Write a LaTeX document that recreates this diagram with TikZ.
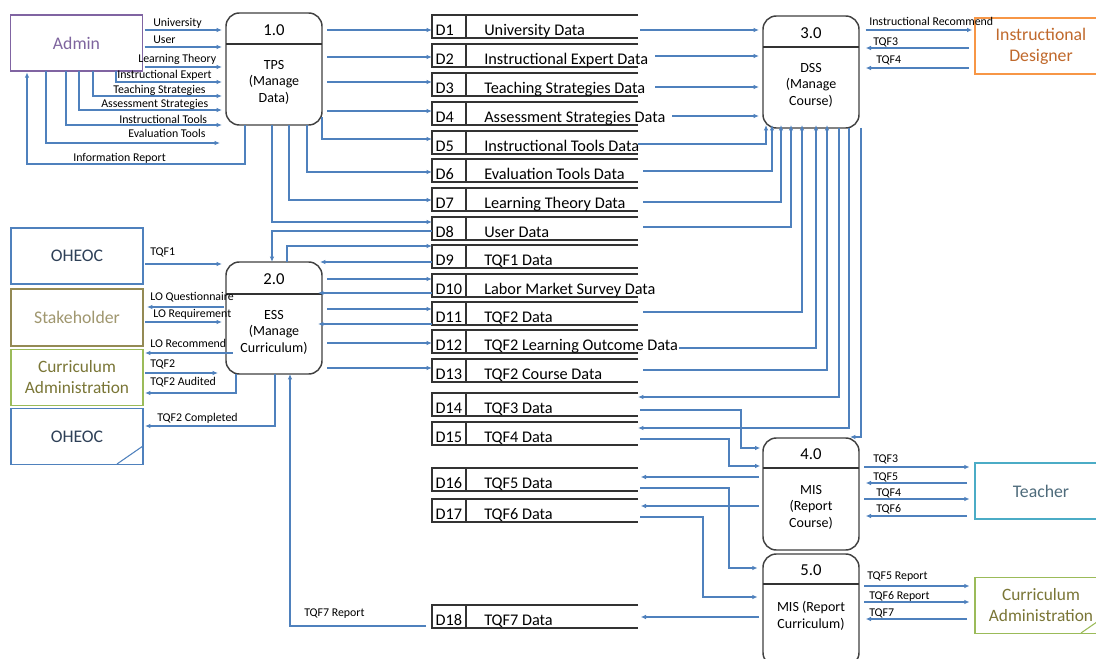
\documentclass[tikz,border=0pt]{standalone}
\usepackage{fontspec}
\setmainfont{Carlito}
\usetikzlibrary{arrows.meta}

\definecolor{flowc}{HTML}{4F81BD}
\definecolor{admc}{HTML}{8064A2}
\definecolor{admt}{HTML}{7E649E}
\definecolor{ohc}{HTML}{4F81BD}
\definecolor{oht}{HTML}{2E4057}
\definecolor{stkc}{HTML}{948A54}
\definecolor{stkt}{HTML}{A0976F}
\definecolor{cac}{HTML}{9BBB59}
\definecolor{cat}{HTML}{7A7636}
\definecolor{idc}{HTML}{F79646}
\definecolor{idt}{HTML}{C0692C}
\definecolor{tcc}{HTML}{4BACC6}
\definecolor{tct}{HTML}{4E6B7B}

\newcommand\lblfont{\fontsize{8.9}{9.5}\selectfont}
\newcommand\storefont{\fontsize{12.2}{14}\selectfont}
\newcommand\entfont{\fontsize{13.3}{15.75}\selectfont}
\newcommand\cafont{\fontsize{13}{15.75}\selectfont}
\newcommand\procfont{\fontsize{10.5}{12.4}\selectfont}
\newcommand\numfont{\fontsize{12.5}{14}\selectfont}

% data store: name, id, label, top edge
\newcommand\dstore[4]{%
  \node[sbox] (#1) at (432,#4) {};
  \draw[sline] (#1.north east) -- (#1.north west) -- (#1.south west) -- (#1.south east);
  \draw[sline] ([xshift=25.5pt]#1.north west) -- ([xshift=25.5pt]#1.south west);
  \node[stxt] (#1id) at ([xshift=2.5pt,yshift=-15.4pt]#1.north west) {#2};
  \node[stxt] (#1lb) at ([xshift=39pt,yshift=-15.4pt]#1.north west) {#3};
}

\begin{document}
\begin{tikzpicture}[x=0.75pt,y=-0.75pt,
  flow/.style={draw=flowc, line width=0.85pt, -{Latex[length=4pt,width=3.4pt]}},
  ge/.style={shorten <=1.5pt, shorten >=3pt},
  gs/.style={shorten <=3.75pt},
  proc/.style={draw=black!75, line width=1.1pt, rounded corners=10pt,
    minimum width=72pt, minimum height=84pt, inner sep=0, outer sep=0},
  procline/.style={draw=black!80, line width=1.1pt},
  numtxt/.style={font=\numfont, inner sep=0},
  proctxt/.style={font=\procfont, align=center, inner sep=0},
  ent/.style={draw, line width=0.9pt, minimum width=99pt, minimum height=42pt,
    inner sep=0, outer sep=0, font=\entfont, align=center},
  sbox/.style={anchor=north west, minimum width=154.5pt, minimum height=17.25pt,
    inner sep=0, outer sep=0},
  sline/.style={draw=black!80, line width=1.2pt},
  stxt/.style={anchor=base west, inner sep=0, font=\storefont},
  lbl/.style={font=\lblfont, inner sep=0, anchor=west}]

\clip (0,0) rectangle (1096,659);
\fill[white] (0,0) rectangle (1096,659);

% ---------- external entities ----------
\node[ent, draw=admc, text=admt] (admin) at (76.5,43) {Admin};
\node[ent, draw=ohc, text=oht] (oh1) at (77,256) {OHEOC};
\node[ent, draw=stkc, text=stkt, minimum height=42.75pt] (stk) at (77,317.5) {Stakeholder};
\node[ent, draw=cac, text=cat, font=\cafont] (ca1) at (77,377.5) {Curriculum\\Administration};
\node[ent, draw=ohc, text=oht] (oh2) at (77,436.5) {OHEOC};
\draw[ohc, line width=0.8pt] (117,464) -- (143,446);

\node[ent, draw=idc, text=idt] (idd) at (1041,46) {Instructional\\Designer};
\node[ent, draw=tcc, text=tct] (tch) at (1041,491) {Teacher};
\node[ent, draw=cac, text=cat, font=\cafont] (ca2) at (1041,605.5) {Curriculum\\Administration};
\draw[cac, line width=0.8pt] (1081,633) -- (1107,615);

% ---------- processes ----------
\node[proc] (p1) at (274,69) {};
\draw[procline] (p1.west |- 0,44) -- (p1.east |- 0,44);
\node[numtxt] (p1n) at (274,30) {1.0};
\node[proctxt] (p1t) at (274,82) {TPS\\(Manage\\Data)};

\node[proc] (p2) at (274,318) {};
\draw[procline] (p2.west |- 0,294) -- (p2.east |- 0,294);
\node[numtxt] (p2n) at (274,279) {2.0};
\node[proctxt] (p2t) at (274,332) {ESS\\(Manage\\Curriculum)};

\node[proc] (p3) at (811,72) {};
\draw[procline] (p3.west |- 0,47) -- (p3.east |- 0,47);
\node[numtxt] (p3n) at (811,33) {3.0};
\node[proctxt] (p3t) at (811,85) {DSS\\(Manage\\Course)};

\node[proc] (p4) at (811,494) {};
\draw[procline] (p4.west |- 0,468) -- (p4.east |- 0,468);
\node[numtxt] (p4n) at (811,454) {4.0};
\node[proctxt] (p4t) at (811,507) {MIS\\(Report\\Course)};

\node[proc] (p5) at (811,610) {};
\draw[procline] (p5.west |- 0,584) -- (p5.east |- 0,584);
\node[numtxt] (p5n) at (811,570) {5.0};
\node[proctxt] (p5t) at (811,616) {MIS (Report\\Curriculum)};

% ---------- data stores ----------
\dstore{d1}{D1}{University Data}{15}
\dstore{d2}{D2}{Instructional Expert Data}{44}
\dstore{d3}{D3}{Teaching Strategies Data}{73}
\dstore{d4}{D4}{Assessment Strategies Data}{102}
\dstore{d5}{D5}{Instructional Tools Data}{131}
\dstore{d6}{D6}{Evaluation Tools Data}{159}
\dstore{d7}{D7}{Learning Theory Data}{188}
\dstore{d8}{D8}{User Data}{217}
\dstore{d9}{D9}{TQF1 Data}{245}
\dstore{d10}{D10}{Labor Market Survey Data}{274}
\dstore{d11}{D11}{TQF2 Data}{302}
\dstore{d12}{D12}{TQF2 Learning Outcome Data}{330}
\dstore{d13}{D13}{TQF2 Course Data}{359}
\dstore{d14}{D14}{TQF3 Data}{393}
\dstore{d15}{D15}{TQF4 Data}{422}
\dstore{d16}{D16}{TQF5 Data}{468}
\dstore{d17}{D17}{TQF6 Data}{499}
\dstore{d18}{D18}{TQF7 Data}{605}

% ---------- Admin <-> TPS ----------
\draw[flow, ge] (admin.east |- 0,30) -- (p1.west |- 0,30);
\draw[flow, ge] (admin.east |- 0,47) -- (p1.west |- 0,47);
\draw[flow, ge] (admin.east |- 0,67) -- (p1.west |- 0,67);
\draw[flow, shorten >=3pt] (admin.south -| 116,0) -- (116,82) -- (p1.west |- 0,82);
\draw[flow, shorten >=3pt] (admin.south -| 93,0) -- (93,96) -- (p1.west |- 0,96);
\draw[flow, shorten >=3pt] (admin.south -| 79,0) -- (79,110) -- (p1.west |- 0,110);
\draw[flow, shorten >=3pt] (admin.south -| 66,0) -- (66,125) -- (p1.west |- 0,125);
\draw[flow, shorten >=4.5pt] (admin.south -| 46,0) -- (46,143) -- (p1.west |- 0,143);
\draw[flow, shorten >=1pt] (p1.south -| 245,0) -- (245,164) -- (27,164) -- (admin.south -| 27,0);

\node[lbl] (lu) at (153,23) {University};
\node[lbl] (lus) at (153,40) {User};
\node[lbl] (llt) at (138,59) {Learning Theory};
\node[lbl] (lie) at (117,75) {Instructional Expert};
\node[lbl] (lts) at (113,90) {Teaching Strategies};
\node[lbl] (las) at (101,104) {Assessment Strategies};
\node[lbl] (lit) at (119,119) {Instructional Tools};
\node[lbl] (let) at (128,133) {Evaluation Tools};
\node[lbl] (lir) at (73,158) {Information Report};

% ---------- TPS -> stores ----------
\draw[flow, gs] (p1.east |- 0,30) -- (d1.west |- 0,30);
\draw[flow, gs] (p1.east |- 0,57) -- (d2.west |- 0,57);
\draw[flow, gs] (p1.east |- 0,82) -- (d3.west |- 0,82);
\draw[flow, gs] (p1.east |- 0,111) -- (d4.west |- 0,111);
\draw[flow] (p1.east |- 0,117) -- (322,139) -- (d5.west |- 0,139);
\draw[flow] (p1.south -| 307,0) -- (307,172) -- (d6.west |- 0,172);
\draw[flow] (p1.south -| 289,0) -- (289,200) -- (d7.west |- 0,200);
\draw[flow] (p1.south -| 272,0) -- (272,222) -- (d8.west |- 0,222);

% ---------- ESS <-> stores ----------
\draw[flow] (d8.west |- 0,231) -- (272,231) -- (p2.north -| 272,0);
\draw[flow] (p2.north -| 287,0) -- (287,246) -- (d9.west |- 0,246);
\draw[flow, shorten >=-1.5pt] (d9.west |- 0,262) -- (p2.east |- 0,262);
\draw[flow, gs] (p2.east |- 0,279) -- (d10.west |- 0,279);
\draw[flow, shorten >=-3pt] (d10.west |- 0,293) -- (p2.east |- 0,293);
\draw[flow, gs] (p2.east |- 0,309) -- (d11.west |- 0,309);
\draw[flow, shorten >=-3pt] (d11.west |- 0,324) -- (p2.east |- 0,324);
\draw[flow, gs] (p2.east |- 0,343) -- (d12.west |- 0,343);
\draw[flow, gs] (p2.east |- 0,368) -- (d13.west |- 0,368);

% ---------- entities <-> ESS ----------
\draw[flow, ge] (oh1.east |- 0,264) -- (p2.west |- 0,264);
\draw[flow, ge] (p2.west |- 0,307) -- (stk.east |- 0,307);
\draw[flow, ge] (stk.east |- 0,322) -- (p2.west |- 0,322);
\draw[flow, shorten <=-5pt, shorten >=1.5pt] (p2.west |- 0,353) -- (ca1.east |- 0,353);
\draw[flow, ge, shorten >=6pt] (ca1.east |- 0,373) -- (p2.west |- 0,373);
\draw[flow, shorten >=1.5pt] (p2.south -| 236,0) -- (236,393) -- (ca1.east |- 0,393);
\draw[flow, shorten >=1.5pt] (p2.south -| 275,0) -- (275,426) -- (oh2.east |- 0,426);
\draw[flow, shorten <=4.5pt] (d18.west |- 0,626) -- (290,626) -- (p2.south -| 290,0);

\node[lbl] (lq1) at (150,252) {TQF1};
\node[lbl] (llq) at (150,297) {LO Questionnaire};
\node[lbl] (llr) at (153,314) {LO Requirement};
\node[lbl] (llm) at (150,343) {LO Recommend};
\node[lbl] (lq2) at (150,364) {TQF2};
\node[lbl] (lqa) at (150,382) {TQF2 Audited};
\node[lbl] (lqc) at (157,418) {TQF2 Completed};
\node[lbl] (lq7) at (304,614) {TQF7 Report};

% ---------- stores -> DSS ----------
\draw[flow, shorten <=1.5pt, shorten >=3pt] (d1.east |- 0,30) -- (p3.west |- 0,30);
\draw[flow, shorten <=12.75pt, shorten >=3pt] (d2.east |- 0,56) -- (p3.west |- 0,56);
\draw[flow, shorten <=12.75pt, shorten >=3pt] (d3.east |- 0,87) -- (p3.west |- 0,87);
\draw[flow, shorten <=25.5pt, shorten >=3pt] (d4.east |- 0,116) -- (p3.west |- 0,116);
\draw[flow, shorten >=-2.25pt] (d5.east |- 0,144) -- (766,144) -- (p3.south -| 766,0);
\draw[flow, shorten <=3.75pt, shorten >=-2.25pt] (d6.east |- 0,171) -- (772,171) -- (p3.south -| 772,0);
\draw[flow, shorten <=3.75pt, shorten >=-2.25pt] (d7.east |- 0,202) -- (781,202) -- (p3.south -| 781,0);
\draw[flow, shorten <=3.75pt, shorten >=-2.25pt] (d8.east |- 0,227) -- (791,227) -- (p3.south -| 791,0);
\draw[flow, shorten <=3.75pt, shorten >=-2.25pt] (d11.east |- 0,312) -- (802,312) -- (p3.south -| 802,0);
\draw[flow, shorten <=31pt, shorten >=-2.25pt] (d12.east |- 0,348) -- (816,348) -- (p3.south -| 816,0);
\draw[flow, shorten <=3.75pt, shorten >=-2.25pt] (d13.east |- 0,370) -- (827,370) -- (p3.south -| 827,0);

% ---------- DSS -> stores / MIS ----------
\coordinate (p4tr) at (850,437);
\draw[flow] (p3.south -| 839,0) -- (839,397) -- (d14.east |- 0,397);
\draw[flow] (p3.south -| 849,0) -- (849,428) -- (d15.east |- 0,428);
\draw[flow] (p3.south -| 861,0) -- (861,437) -- (p4tr);

% ---------- stores <-> MIS ----------
\draw[flow, shorten <=1.5pt, shorten >=2pt] (d14.east |- 0,410) -- (741,410) -- (741,448) -- (p4.west |- 0,448);
\draw[flow, shorten <=1.5pt, shorten >=2pt] (d15.east |- 0,439) -- (729,439) -- (729,466) -- (p4.west |- 0,466);
\draw[flow, shorten <=3pt, shorten >=2pt] (p4.west |- 0,477) -- (d16.east |- 0,477);
\draw[flow, shorten <=1.5pt, shorten >=4pt] (d16.east |- 0,488) -- (729,488) -- (729,568) -- (p5.west |- 0,568);
\draw[flow, shorten <=3pt, shorten >=2pt] (p4.west |- 0,506) -- (d17.east |- 0,506);
\draw[flow, shorten <=1.5pt, shorten >=4pt] (d17.east |- 0,517) -- (703,517) -- (703,597) -- (p5.west |- 0,597);
\draw[flow, shorten <=3pt, shorten >=2pt] (p5.west |- 0,617) -- (d18.east |- 0,617);

% ---------- right entities ----------
\draw[flow, shorten <=5pt, shorten >=2pt] (p3.east |- 0,30) -- (idd.west |- 0,30);
\draw[flow, shorten <=4.5pt, shorten >=5pt] (idd.west |- 0,48) -- (p3.east |- 0,48);
\draw[flow, shorten <=4.5pt, shorten >=5pt] (idd.west |- 0,68) -- (p3.east |- 0,68);
\node[lbl] (lirc) at (869,21) {Instructional Recommend};
\node[lbl] (lt3a) at (873,42) {TQF3};
\node[lbl] (lt4a) at (876,60) {TQF4};

\draw[flow, shorten <=4pt, shorten >=4pt] (p4.east |- 0,467) -- (tch.west |- 0,467);
\draw[flow, shorten <=6pt, shorten >=5pt] (tch.west |- 0,483) -- (p4.east |- 0,483);
\draw[flow, shorten <=4pt, shorten >=4pt] (p4.east |- 0,499) -- (tch.west |- 0,499);
\draw[flow, shorten <=6pt, shorten >=5pt] (tch.west |- 0,516) -- (p4.east |- 0,516);
\node[lbl] (lt3b) at (873,459) {TQF3};
\node[lbl] (lt5b) at (873,477) {TQF5};
\node[lbl] (lt4b) at (876,493) {TQF4};
\node[lbl] (lt6b) at (876,509) {TQF6};

\draw[flow, shorten <=4pt, shorten >=4pt] (p5.east |- 0,586) -- (ca2.west |- 0,586);
\draw[flow, shorten <=4pt, shorten >=4pt] (p5.east |- 0,602) -- (ca2.west |- 0,602);
\draw[flow, shorten <=6pt, shorten >=5pt] (ca2.west |- 0,619) -- (p5.east |- 0,619);
\node[lbl] (lt5r) at (867,577) {TQF5 Report};
\node[lbl] (lt6r) at (869,596) {TQF6 Report};
\node[lbl] (lt7) at (869,613) {TQF7};

\end{tikzpicture}
\end{document}
